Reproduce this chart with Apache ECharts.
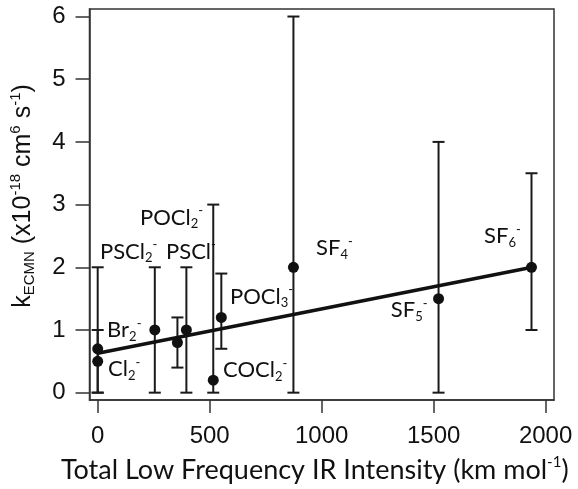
<!DOCTYPE html>
<html>
<head>
<meta charset="utf-8">
<script src="https://cdn.jsdelivr.net/npm/echarts@6/dist/echarts.min.js"></script>
<style>
  html, body { margin: 0; padding: 0; background: #fff; }
  #chart { width: 578px; height: 489px; }
</style>
</head>
<body>
<div id="chart"></div>
<script>
// === DATA ===
const irIntensity = [0, 0, 255, 356, 396, 516, 552, 874, 1522, 1937];
const kValue      = [0.5, 0.7, 1.0, 0.8, 1.0, 0.2, 1.2, 2.0, 1.5, 2.0];
const kLow        = [0, 0, 0, 0.4, 0, 0, 0.7, 0, 0, 1.0];
const kHigh       = [2, 1, 2, 1.2, 2, 3, 1.9, 6, 4, 3.5];

// fitted line end points
const fitX = [0, 1940];
const fitY = [0.63, 2.0];

// annotation text and where it sits (data units, left edge / middle)
const labelText = [
    '{m|Cl}{sub|2}{sup|-}',
    '{m|Br}{sub|2}{sup|-}',
    '{m|PSCl}{sub|2}{sup|-}',
    '{m|PSCl}{sup|-}',
    '{m|POCl}{sub|2}{sup|-}',
    '{m|COCl}{sub|2}{sup|-}',
    '{m|POCl}{sub|3}{sup|-}',
    '{m|SF}{sub|4}{sup|-}',
    '{m|SF}{sub|5}{sup|-}',
    '{m|SF}{sub|6}{sup|-}'
];
const labelX = [46, 42, 10, 305, 189, 560, 591, 975, 1309, 1725];
const labelY = [0.38, 1.0, 2.25, 2.25, 2.79, 0.36, 1.53, 2.31, 1.32, 2.5];

const xTicks = [0, 500, 1000, 1500, 2000];
const yTicks = [0, 1, 2, 3, 4, 5, 6];

// === STYLE ===
const ink = '#111';
const frame = '#333';
const labelFont = 'Lato';
const tickFont = 'Liberation Sans';

const richLabel = {
    m: { fontFamily: labelFont, fontSize: 22, lineHeight: 26, color: ink },
    sub: { fontFamily: labelFont, fontSize: 13, lineHeight: 13, verticalAlign: 'bottom', color: ink },
    sup: { fontFamily: labelFont, fontSize: 13, lineHeight: 13, verticalAlign: 'top', color: ink }
};

// === RENDER ===
const chart = echarts.init(document.getElementById('chart'), null, { renderer: 'canvas' });

const points = irIntensity.map((x, i) => [x, kValue[i]]);
const bars = irIntensity.map((x, i) => [x, kLow[i], kHigh[i]]);
const labels = labelX.map((x, i) => [x, labelY[i], labelText[i]]);
const fit = fitX.map((x, i) => [x, fitY[i]]);

const option = {
    animation: false,
    grid: {
        left: 89.5, right: 24, top: 9, bottom: 89,
        outerBoundsMode: 'none',
        show: true, borderColor: frame, borderWidth: 1.5
    },
    xAxis: {
        type: 'value',
        min: -36.6,
        max: 2037.5,
        name: '{m|Total Low Frequency IR Intensity (km mol}{sup|-1}{m|)}',
        nameLocation: 'middle',
        nameGap: 55,
        nameTextStyle: {
            padding: [0, 14, 0, 0],
            rich: {
                m: { fontFamily: labelFont, fontSize: 27, lineHeight: 31, color: ink },
                sup: { fontFamily: labelFont, fontSize: 15, lineHeight: 15, verticalAlign: 'top', color: ink }
            }
        },
        axisLine: { show: true, onZero: false, lineStyle: { color: frame, width: 1.5 } },
        axisTick: { show: true, inside: false, length: 13, customValues: xTicks, lineStyle: { color: frame, width: 1.5 } },
        axisLabel: { customValues: xTicks, formatter: v => String(v), margin: 24, fontFamily: tickFont, fontSize: 24, color: ink },
        splitLine: { show: false }
    },
    yAxis: {
        type: 'value',
        min: -0.117,
        max: 6.12,
        name: '{m|k}{sub|ECMN}{m| (x10}{sup|-18}{m| cm}{sup|6}{m| s}{sup|-1}{m|)}',
        nameLocation: 'middle',
        nameRotate: 90,
        nameGap: 52,
        nameTextStyle: {
            padding: [0, 0, 0, 17],
            rich: {
                m: { fontFamily: tickFont, fontSize: 25, lineHeight: 29, color: ink },
                sub: { fontFamily: tickFont, fontSize: 15, lineHeight: 15, verticalAlign: 'bottom', color: ink },
                sup: { fontFamily: tickFont, fontSize: 15, lineHeight: 15, verticalAlign: 'top', color: ink }
            }
        },
        axisLine: { show: true, onZero: false, lineStyle: { color: frame, width: 1.5 } },
        axisTick: { show: true, inside: false, length: 14, customValues: yTicks, lineStyle: { color: frame, width: 1.5 } },
        axisLabel: { customValues: yTicks, formatter: v => String(v), margin: 24, fontFamily: tickFont, fontSize: 24, color: ink },
        splitLine: { show: false }
    },
    series: [
        {
            type: 'custom',
            name: 'error',
            data: bars,
            z: 2,
            renderItem: (params, api) => {
                const x = api.value(0);
                const lo = api.coord([x, api.value(1)]);
                const hi = api.coord([x, api.value(2)]);
                const cap = 6;
                const style = { stroke: '#1a1a1a', lineWidth: 2 };
                return {
                    type: 'group',
                    children: [
                        { type: 'line', shape: { x1: lo[0], y1: lo[1], x2: hi[0], y2: hi[1] }, style },
                        { type: 'line', shape: { x1: lo[0] - cap, y1: lo[1], x2: lo[0] + cap, y2: lo[1] }, style },
                        { type: 'line', shape: { x1: hi[0] - cap, y1: hi[1], x2: hi[0] + cap, y2: hi[1] }, style }
                    ]
                };
            }
        },
        {
            type: 'line',
            name: 'fit',
            data: fit,
            symbol: 'none',
            z: 3,
            lineStyle: { color: '#111', width: 3.5 }
        },
        {
            type: 'scatter',
            name: 'k',
            data: points,
            symbol: 'circle',
            symbolSize: 11,
            z: 4,
            itemStyle: { color: '#111', opacity: 1 }
        },
        {
            type: 'scatter',
            name: 'labels',
            data: labels,
            symbolSize: 0,
            z: 5,
            silent: true,
            itemStyle: { opacity: 1 },
            label: {
                show: true,
                position: 'right',
                distance: 0,
                formatter: p => p.data[2],
                color: ink,
                opacity: 1,
                rich: richLabel
            }
        }
    ]
};

chart.setOption(option);
</script>
</body>
</html>
